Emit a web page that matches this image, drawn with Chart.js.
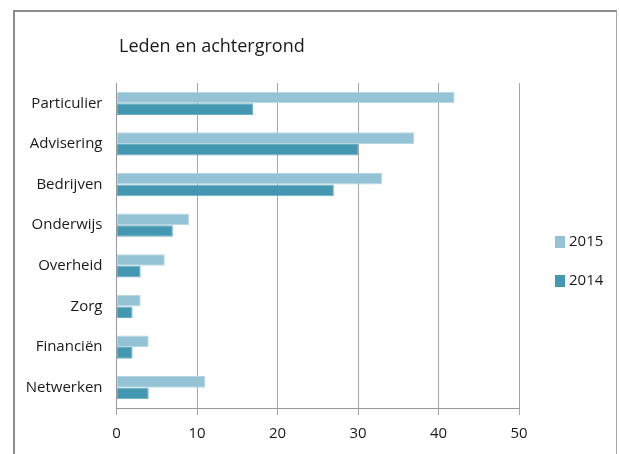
<!DOCTYPE html>
<html>
<head>
<meta charset="utf-8">
<script src="https://cdn.jsdelivr.net/npm/chart.js@4/dist/chart.umd.min.js"></script>
<style>
  html, body { margin: 0; padding: 0; background: #fff; }
  #wrap { position: relative; width: 619px; height: 454px; overflow: hidden; }
  #frame { position: absolute; left: 13px; top: 10px; width: 601px; height: 460px;
           border-left: 2px solid #8c8c8c; border-top: 2px solid #8c8c8c; border-right: 1px solid #a8a8a8; }
  canvas { position: absolute; left: 0; top: 0; }
</style>
</head>
<body>
<div id="wrap">
  <div id="frame"></div>
  <canvas id="c" width="619" height="454"></canvas>
</div>
<script>
const chartTitle = "Leden en achtergrond";
const categories = ["Particulier", "Advisering", "Bedrijven", "Onderwijs", "Overheid", "Zorg", "Financiën", "Netwerken"];
const seriesLabels = ["2015", "2014"];
const values2015 = [42, 37, 33, 9, 6, 3, 4, 11];
const values2014 = [17, 30, 27, 7, 3, 2, 2, 4];
const xTicks = [0, 10, 20, 30, 40, 50];

const FONT = "'Open Sans', sans-serif";
const colors = ["#93c3d5", "#4397b0"];
const borders = ["#b5d7e4", "#6aaec2"];

const overlay = {
  id: "overlay",
  afterDraw(chart) {
    const ctx = chart.ctx;
    ctx.save();
    ctx.fillStyle = "#1a1a1a";
    ctx.font = "18px " + FONT;
    ctx.textBaseline = "middle";
    ctx.textAlign = "left";
    ctx.fillText(chartTitle, 119, 47);
    const ys = [242, 281];
    chart.data.datasets.forEach((ds, i) => {
      ctx.fillStyle = ds.backgroundColor;
      ctx.fillRect(555, ys[i] - 6, 10, 12);
      ctx.fillStyle = "#1a1a1a";
      ctx.font = "15px " + FONT;
      ctx.fillText(ds.label, 569, ys[i]);
    });
    ctx.restore();
  }
};

new Chart(document.getElementById("c"), {
  type: "bar",
  data: {
    labels: categories,
    datasets: [
      { label: seriesLabels[0], data: values2015, backgroundColor: colors[0], borderColor: borders[0], borderWidth: 1, borderSkipped: false },
      { label: seriesLabels[1], data: values2014, backgroundColor: colors[1], borderColor: borders[1], borderWidth: 1, borderSkipped: false }
    ]
  },
  options: {
    indexAxis: "y",
    responsive: false,
    animation: false,
    devicePixelRatio: 1,
    layout: { padding: { top: 83, right: 100, left: 0, bottom: 0 } },
    datasets: { bar: { categoryPercentage: 0.57, barPercentage: 1.0 } },
    plugins: { legend: { display: false }, title: { display: false }, tooltip: { enabled: false } },
    scales: {
      x: {
        min: 0, max: 50,
        afterBuildTicks(scale) { scale.ticks = xTicks.map(v => ({ value: v })); },
        afterFit(scale) { scale.height = 46; },
        grid: { color: "#a6a6a6", lineWidth: 1, tickLength: 7, drawTicks: true },
        border: { display: true, color: "#999999", width: 1 },
        ticks: { color: "#1a1a1a", font: { family: FONT, size: 15 }, padding: 10, maxRotation: 0 }
      },
      y: {
        afterFit(scale) { scale.width = 116.5; },
        grid: { display: false, drawTicks: false },
        border: { display: true, color: "#999999", width: 1 },
        ticks: { color: "#1a1a1a", font: { family: FONT, size: 15 }, padding: 14 }
      }
    }
  },
  plugins: [overlay]
});
</script>
</body>
</html>
